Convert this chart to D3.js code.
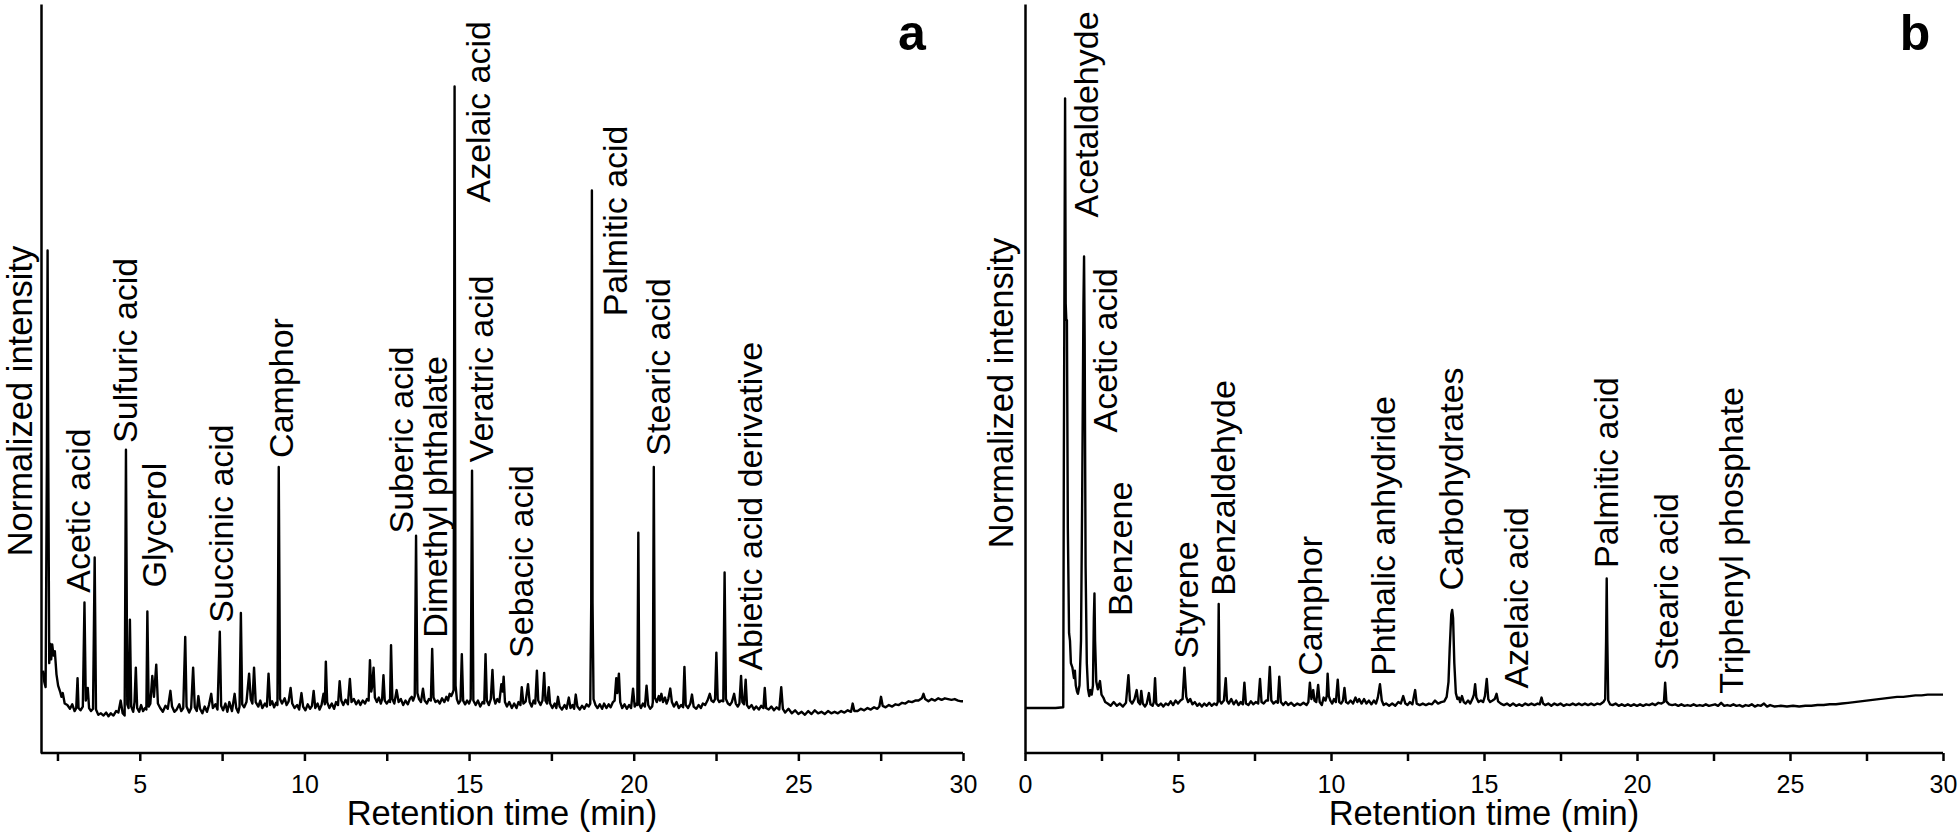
<!DOCTYPE html>
<html><head><meta charset="utf-8">
<script src="https://cdn.jsdelivr.net/npm/d3@7"></script>
<style>
html,body{margin:0;padding:0;background:#fff;}
svg{display:block;font-family:"Liberation Sans",Arial,Helvetica,sans-serif;}
</style></head>
<body>
<svg id="chart" width="1960" height="839"></svg>
<script>
// ---------- DATA ----------
const xTicks = [2.5,5,7.5,10,12.5,15,17.5,20,22.5,25,27.5,30];
const xTicksB = [0,2.5,5,7.5,10,12.5,15,17.5,20,22.5,25,27.5,30];
const xLabelTicks = [0,5,10,15,20,25,30];

// panel a chromatogram: [retention time (min), normalized intensity]
const aTrace = [[2.06,11.0],[2.10,9.5],[2.14,8.8],[2.18,40],[2.20,67.1],[2.22,40],[2.25,12],[2.28,14.6],[2.31,12.5],[2.34,14.5],[2.38,13.0],[2.42,13.6],[2.47,10.5],[2.52,9.0],[2.58,8.2],[2.62,7.5],[2.66,8.0],[2.72,6.6],[2.80,6.4],[2.88,5.9],[2.95,6.5],[3.02,5.6],[3.07,6.0],[3.11,10.0],[3.14,6.0],[3.2,5.7],[3.27,6.2],[3.32,20.1],[3.36,7.0],[3.42,8.7],[3.46,6.0],[3.52,5.6],[3.58,5.9],[3.63,26.1],[3.67,5.8],[3.74,5.1],[3.82,5.3],[3.9,5.0],[3.98,5.4],[4.05,4.9],[4.12,5.3],[4.2,5.0],[4.28,5.6],[4.35,5.4],[4.42,7.0],[4.48,5.3],[4.54,5.0],[4.58,40.5],[4.62,6.5],[4.66,6.0],[4.70,17.8],[4.74,6.2],[4.8,5.5],[4.84,6.8],[4.88,11.4],[4.92,6.0],[4.98,5.5],[5.04,6.4],[5.1,5.6],[5.16,6.0],[5.2,5.8],[5.23,18.9],[5.27,6.2],[5.32,6.6],[5.38,10.3],[5.43,7.5],[5.50,11.8],[5.55,6.6],[5.62,6.0],[5.7,5.5],[5.78,6.3],[5.85,5.9],[5.93,8.3],[5.98,6.2],[6.05,5.5],[6.12,5.8],[6.2,6.5],[6.26,5.6],[6.32,6.0],[6.38,15.5],[6.42,6.2],[6.5,5.4],[6.56,6.0],[6.62,11.4],[6.67,6.1],[6.73,5.6],[6.78,7.6],[6.83,5.9],[6.9,5.3],[6.97,6.2],[7.04,5.5],[7.1,6.4],[7.17,7.9],[7.22,6.0],[7.3,6.5],[7.36,5.8],[7.43,16.2],[7.47,6.3],[7.53,5.7],[7.6,6.6],[7.66,5.5],[7.72,6.8],[7.8,5.6],[7.88,7.9],[7.93,6.0],[7.99,5.4],[8.03,6.2],[8.07,18.7],[8.11,6.5],[8.17,6.1],[8.24,6.8],[8.32,10.6],[8.37,7.2],[8.42,6.6],[8.47,11.4],[8.52,6.8],[8.6,6.2],[8.66,7.0],[8.72,6.0],[8.8,6.6],[8.86,6.2],[8.91,10.6],[8.96,6.4],[9.02,6.9],[9.08,6.1],[9.14,6.7],[9.18,6.4],[9.22,38.2],[9.26,7.2],[9.32,6.6],[9.4,7.3],[9.46,6.4],[9.52,6.9],[9.58,8.7],[9.63,6.6],[9.7,6.0],[9.78,6.4],[9.84,5.8],[9.91,8.0],[9.96,6.2],[10.03,5.7],[10.1,6.5],[10.17,5.9],[10.23,6.3],[10.28,8.3],[10.33,6.0],[10.4,6.6],[10.46,5.8],[10.52,6.4],[10.58,7.9],[10.62,6.5],[10.65,12.2],[10.69,6.8],[10.76,6.0],[10.83,6.6],[10.9,5.9],[10.96,6.8],[11.02,6.4],[11.07,9.6],[11.12,7.0],[11.18,6.4],[11.25,7.1],[11.32,6.5],[11.38,9.9],[11.43,6.8],[11.5,7.2],[11.57,6.5],[11.64,7.0],[11.7,6.4],[11.77,7.0],[11.84,6.6],[11.9,7.2],[11.95,7.0],[11.99,12.4],[12.03,8.2],[12.06,9.0],[12.10,11.4],[12.14,7.4],[12.2,6.8],[12.26,7.4],[12.32,6.6],[12.36,7.2],[12.40,10.4],[12.44,7.0],[12.5,6.6],[12.56,7.0],[12.6,6.8],[12.63,14.4],[12.67,7.2],[12.73,6.6],[12.8,8.4],[12.86,6.8],[12.93,7.2],[13.0,6.4],[13.07,7.0],[13.14,6.5],[13.2,7.2],[13.26,7.5],[13.3,7.0],[13.35,7.6],[13.39,29.0],[13.43,8.0],[13.48,7.2],[13.54,6.8],[13.6,8.6],[13.65,7.0],[13.72,6.6],[13.78,7.2],[13.84,7.0],[13.88,13.9],[13.92,7.4],[13.98,6.8],[14.05,7.0],[14.11,6.6],[14.18,7.3],[14.25,6.8],[14.31,7.5],[14.36,7.0],[14.41,7.9],[14.46,7.6],[14.5,8.0],[14.53,8.4],[14.56,89.0],[14.59,9.0],[14.63,7.2],[14.68,6.6],[14.74,7.0],[14.78,13.2],[14.82,7.0],[14.88,6.5],[14.94,7.0],[15.0,6.6],[15.05,7.2],[15.09,37.7],[15.13,7.0],[15.2,6.4],[15.27,7.0],[15.34,6.2],[15.41,6.8],[15.46,6.6],[15.5,13.2],[15.54,7.0],[15.6,6.4],[15.66,7.2],[15.71,11.1],[15.75,7.4],[15.8,6.6],[15.86,7.2],[15.92,6.8],[15.98,9.2],[16.02,8.2],[16.05,10.2],[16.09,6.8],[16.15,6.2],[16.22,6.8],[16.3,6.0],[16.37,6.6],[16.44,6.0],[16.5,6.8],[16.56,6.4],[16.6,8.8],[16.65,6.6],[16.72,6.9],[16.79,9.2],[16.84,6.8],[16.9,6.2],[16.96,7.0],[17.01,6.6],[17.06,11.0],[17.1,7.0],[17.17,6.4],[17.23,7.0],[17.28,10.7],[17.32,7.0],[17.37,6.6],[17.42,8.8],[17.46,6.6],[17.53,6.0],[17.6,6.6],[17.65,6.0],[17.7,7.5],[17.75,6.2],[17.82,5.8],[17.9,6.4],[17.96,5.9],[18.03,7.4],[18.08,6.0],[18.14,6.4],[18.19,5.9],[18.24,7.8],[18.29,6.2],[18.36,5.8],[18.43,6.3],[18.5,5.9],[18.57,6.5],[18.63,6.2],[18.68,6.6],[18.71,20],[18.73,75.1],[18.75,20],[18.78,7.2],[18.84,6.4],[18.9,6.0],[18.97,6.5],[19.04,5.9],[19.1,6.6],[19.17,6.0],[19.24,6.5],[19.3,6.1],[19.37,6.8],[19.42,7.0],[19.47,10.0],[19.5,8.0],[19.55,10.6],[19.59,6.8],[19.65,6.0],[19.72,6.5],[19.79,5.9],[19.86,6.4],[19.92,6.0],[19.98,8.6],[20.03,6.2],[20.08,6.6],[20.11,6.4],[20.14,29.4],[20.17,6.5],[20.22,6.0],[20.28,6.6],[20.34,6.2],[20.39,9.0],[20.44,6.4],[20.5,5.9],[20.56,6.2],[20.58,6.8],[20.61,38.2],[20.64,7.4],[20.7,6.8],[20.76,7.6],[20.8,7.0],[20.84,7.9],[20.89,6.8],[20.95,7.4],[21.0,6.6],[21.05,7.2],[21.11,8.6],[21.16,6.8],[21.22,6.2],[21.3,6.8],[21.37,6.0],[21.44,6.4],[21.5,6.1],[21.54,11.5],[21.58,6.4],[21.65,6.0],[21.72,6.6],[21.77,7.8],[21.82,6.2],[21.9,5.9],[21.97,6.4],[22.04,6.0],[22.1,6.6],[22.17,6.4],[22.24,7.0],[22.31,7.9],[22.36,7.0],[22.42,6.8],[22.47,7.2],[22.51,13.4],[22.55,7.2],[22.6,6.8],[22.66,7.0],[22.72,6.9],[22.76,24.1],[22.8,7.2],[22.86,6.6],[22.92,6.4],[22.98,6.8],[23.05,7.9],[23.1,6.6],[23.16,6.2],[23.21,6.6],[23.26,10.3],[23.3,6.8],[23.35,6.5],[23.4,9.8],[23.44,6.4],[23.5,6.0],[23.58,6.4],[23.65,5.8],[23.72,6.2],[23.8,5.8],[23.87,6.3],[23.94,6.0],[23.98,8.7],[24.02,6.0],[24.1,5.8],[24.18,6.2],[24.26,5.7],[24.34,6.1],[24.42,5.8],[24.48,8.8],[24.53,5.9],[24.6,5.4],[24.7,5.9],[24.8,5.3],[24.9,5.7],[25.0,5.2],[25.1,5.5],[25.2,5.1],[25.3,5.6],[25.4,5.2],[25.5,5.7],[25.6,5.3],[25.7,5.5],[25.8,5.2],[25.9,5.6],[26.0,5.3],[26.1,5.5],[26.2,5.3],[26.3,5.6],[26.4,5.4],[26.5,5.7],[26.6,5.5],[26.65,6.6],[26.7,5.6],[26.8,5.6],[26.9,5.9],[27.0,5.7],[27.1,6.0],[27.2,5.8],[27.3,6.1],[27.4,5.9],[27.46,6.2],[27.51,7.5],[27.56,6.3],[27.65,6.1],[27.75,6.4],[27.85,6.2],[27.95,6.5],[28.05,6.4],[28.15,6.7],[28.25,6.6],[28.35,6.9],[28.45,6.8],[28.55,7.0],[28.65,7.0],[28.75,7.3],[28.8,7.9],[28.85,7.2],[28.95,6.9],[29.05,7.2],[29.15,7.0],[29.25,7.3],[29.35,7.1],[29.45,7.3],[29.55,7.2],[29.65,7.1],[29.75,7.2],[29.85,7.0],[29.95,6.9],[30.0,6.9]];

// panel b chromatogram
const bTrace = [[0,6.0],[1.0,6.0],[1.25,6.1],[1.27,40],[1.31,87.4],[1.33,60],[1.35,57.8],[1.37,57.8],[1.40,30],[1.44,16.0],[1.47,15.0],[1.50,12.0],[1.55,11.4],[1.6,10.0],[1.63,11.0],[1.66,9.0],[1.70,8.2],[1.73,7.9],[1.78,9.0],[1.83,15],[1.87,35],[1.91,60],[1.93,66.3],[1.95,55],[1.98,25],[2.02,12],[2.06,8.5],[2.10,7.6],[2.14,8.4],[2.18,7.8],[2.22,9],[2.25,18],[2.27,21.3],[2.29,15],[2.33,9.5],[2.38,8.5],[2.45,9.6],[2.5,7.8],[2.56,7.4],[2.62,6.8],[2.7,6.6],[2.8,6.3],[2.9,6.8],[3.0,6.3],[3.1,6.6],[3.2,6.2],[3.3,6.7],[3.38,10.4],[3.43,7.0],[3.5,6.6],[3.58,7.2],[3.65,8.4],[3.7,6.8],[3.76,6.5],[3.8,8.3],[3.85,6.6],[3.92,6.2],[3.98,6.6],[4.05,8.0],[4.1,6.5],[4.17,6.3],[4.21,6.8],[4.25,10.0],[4.29,6.6],[4.36,6.3],[4.44,6.6],[4.52,6.2],[4.6,6.6],[4.68,6.4],[4.76,6.9],[4.84,6.4],[4.92,7.0],[5.0,6.6],[5.08,7.0],[5.15,7.2],[5.21,11.4],[5.27,7.5],[5.33,6.8],[5.4,7.2],[5.47,6.5],[5.55,6.8],[5.63,6.3],[5.7,6.6],[5.78,6.2],[5.86,6.6],[5.94,6.3],[6.02,6.7],[6.1,6.3],[6.18,6.6],[6.26,6.4],[6.3,6.8],[6.33,19.9],[6.36,7.0],[6.42,6.6],[6.5,7.0],[6.56,10.0],[6.6,7.0],[6.66,6.6],[6.74,7.2],[6.82,6.5],[6.9,7.0],[6.98,6.4],[7.05,6.8],[7.12,6.5],[7.17,9.4],[7.22,6.6],[7.3,6.4],[7.38,6.9],[7.46,6.5],[7.54,6.8],[7.62,6.6],[7.68,9.9],[7.73,6.8],[7.8,6.6],[7.88,7.0],[7.94,7.0],[8.0,11.5],[8.05,7.0],[8.12,6.6],[8.2,6.9],[8.26,6.7],[8.31,10.2],[8.36,6.8],[8.44,6.4],[8.52,6.8],[8.6,6.4],[8.7,6.7],[8.8,6.3],[8.9,6.6],[9.0,6.4],[9.1,6.7],[9.2,6.4],[9.26,6.8],[9.31,9.4],[9.36,7.2],[9.42,8.4],[9.46,7.0],[9.52,6.8],[9.58,9.1],[9.63,6.8],[9.7,6.4],[9.76,7.4],[9.82,7.0],[9.86,7.6],[9.89,10.6],[9.93,7.6],[9.98,7.0],[10.04,6.6],[10.1,7.2],[10.16,6.8],[10.22,9.8],[10.27,6.8],[10.33,6.6],[10.39,7.0],[10.44,8.7],[10.49,6.8],[10.56,6.6],[10.64,7.0],[10.72,6.6],[10.8,7.4],[10.86,6.8],[10.92,7.2],[11.0,6.6],[11.08,7.2],[11.16,6.6],[11.24,7.0],[11.32,6.5],[11.4,7.0],[11.47,6.6],[11.53,7.4],[11.6,9.2],[11.66,7.0],[11.72,6.4],[11.8,6.6],[11.9,6.3],[12.0,6.6],[12.1,6.3],[12.2,6.8],[12.28,6.6],[12.36,7.6],[12.43,6.6],[12.5,6.4],[12.58,6.8],[12.66,6.5],[12.75,8.4],[12.8,6.6],[12.9,6.4],[13.0,6.6],[13.1,6.4],[13.2,6.6],[13.3,6.5],[13.4,7.0],[13.5,6.6],[13.6,6.8],[13.7,6.9],[13.78,7.5],[13.84,9.5],[13.88,14.0],[13.93,18.5],[13.96,19.1],[13.99,18.0],[14.03,12.0],[14.08,8.0],[14.13,7.2],[14.18,7.4],[14.22,6.8],[14.28,7.6],[14.34,6.8],[14.4,6.6],[14.48,7.0],[14.55,6.6],[14.62,7.2],[14.67,7.8],[14.71,9.2],[14.75,7.4],[14.82,6.8],[14.9,7.0],[14.97,6.8],[15.03,7.6],[15.09,9.9],[15.14,7.2],[15.2,6.8],[15.28,7.0],[15.35,7.2],[15.41,7.9],[15.46,6.9],[15.55,6.6],[15.65,6.4],[15.75,6.6],[15.85,6.3],[15.95,6.6],[16.05,6.3],[16.15,6.5],[16.25,6.3],[16.35,6.6],[16.45,6.4],[16.55,6.6],[16.65,6.4],[16.75,6.6],[16.82,6.5],[16.88,7.4],[16.93,6.6],[17.0,6.4],[17.1,6.6],[17.2,6.3],[17.3,6.6],[17.4,6.4],[17.5,6.6],[17.6,6.3],[17.7,6.5],[17.8,6.4],[17.9,6.6],[18.0,6.4],[18.1,6.6],[18.2,6.4],[18.3,6.6],[18.4,6.4],[18.5,6.6],[18.6,6.4],[18.7,6.6],[18.8,6.5],[18.9,6.8],[18.96,7.2],[18.99,15],[19.01,23.3],[19.03,15],[19.06,7.0],[19.12,6.5],[19.2,6.4],[19.3,6.6],[19.4,6.3],[19.5,6.5],[19.6,6.3],[19.7,6.5],[19.8,6.3],[19.9,6.5],[20.0,6.3],[20.1,6.5],[20.2,6.3],[20.3,6.5],[20.4,6.4],[20.5,6.6],[20.6,6.4],[20.7,6.7],[20.8,6.6],[20.88,6.8],[20.92,9.4],[20.96,6.9],[21.05,6.5],[21.15,6.4],[21.25,6.5],[21.35,6.3],[21.45,6.5],[21.55,6.3],[21.65,6.4],[21.75,6.3],[21.85,6.5],[21.95,6.3],[22.05,6.4],[22.15,6.3],[22.25,6.5],[22.35,6.3],[22.45,6.4],[22.55,6.5],[22.65,6.3],[22.75,6.7],[22.85,6.3],[22.95,6.4],[23.05,6.3],[23.15,6.5],[23.25,6.3],[23.35,6.4],[23.45,6.2],[23.55,6.4],[23.65,6.3],[23.75,6.5],[23.85,6.2],[23.95,6.4],[24.05,6.3],[24.15,6.6],[24.25,6.2],[24.35,6.4],[24.5,6.2],[24.7,6.3],[24.9,6.2],[25.1,6.3],[25.3,6.2],[25.5,6.3],[25.7,6.3],[25.9,6.4],[26.1,6.4],[26.3,6.5],[26.5,6.5],[26.7,6.6],[26.9,6.7],[27.1,6.8],[27.3,6.9],[27.5,7.0],[27.7,7.1],[27.9,7.2],[28.1,7.3],[28.3,7.4],[28.5,7.5],[28.7,7.5],[28.9,7.6],[29.1,7.7],[29.3,7.7],[29.5,7.8],[29.7,7.8],[29.9,7.8],[30.0,7.8]];

// peak labels: name, retention time at label, intensity at label start
const aLabelNames = ["Acetic acid","Sulfuric acid","Glycerol","Succinic acid","Camphor","Suberic acid","Dimethyl phthalate","Azelaic acid","Veratric acid","Sebacic acid","Palmitic acid","Stearic acid","Abietic acid derivative"];
const aLabelTimes = [3.48,4.91,5.79,7.82,9.65,13.29,14.32,15.63,15.72,16.93,19.79,21.09,23.89];
const aLabelHeights = [21.4,41.4,22.1,17.4,39.4,29.3,15.4,73.5,38.8,12.7,58.3,39.7,11.0];

const bLabelNames = ["Acetaldehyde","Acetic acid","Benzene","Styrene","Benzaldehyde","Camphor","Phthalic anhydride","Carbohydrates","Azelaic acid","Palmitic acid","Stearic acid","Triphenyl phosphate"];
const bLabelTimes = [2.39,3.01,3.50,5.65,6.86,9.71,12.09,14.31,16.44,19.38,21.34,23.46];
const bLabelHeights = [71.5,42.8,18.3,12.6,21.0,10.3,10.3,21.7,8.6,24.7,11.0,7.9];

const xTitle = "Retention time (min)";
const yTitle = "Normalized intensity";

// ---------- DRAW ----------
const svg = d3.select("#chart");
const FONT = '"Liberation Sans",Arial,Helvetica,sans-serif';
const plotTop = 4, plotBottom = 753;

function panel(cfg){
  const g = svg.append("g");
  const x = d3.scaleLinear().domain(cfg.xDomain).range(cfg.xRange);
  const y = d3.scaleLinear().domain([0,100]).range([plotBottom, plotTop]);

  // trace
  const line = d3.line().x(d=>x(d[0])).y(d=>y(d[1]));
  g.append("path").datum(cfg.trace)
    .attr("d", line).attr("fill","none").attr("stroke","#000")
    .attr("stroke-width",2.4).attr("stroke-linejoin","round");

  // x axis
  const ax = d3.axisBottom(x).tickValues(cfg.ticks).tickSize(8).tickPadding(14)
    .tickFormat(d => xLabelTicks.includes(d) ? d3.format("d")(d) : "");
  const axg = g.append("g").attr("transform",`translate(0,${plotBottom})`).call(ax);
  axg.select(".domain").attr("stroke","#000").attr("stroke-width",2.5)
    .attr("d", `M${cfg.xRange[0]},0H${cfg.xRange[1]}`);
  axg.selectAll(".tick line").attr("stroke","#000").attr("stroke-width",2.5);
  axg.selectAll(".tick text").attr("fill","#000").style("font-size","25px").style("font-family",FONT);

  // y axis (no ticks)
  const ay = d3.axisLeft(y).tickValues([]).tickSizeOuter(0);
  const ayg = g.append("g").attr("transform",`translate(${cfg.xRange[0]},0)`).call(ay);
  ayg.select(".domain").attr("stroke","#000").attr("stroke-width",2.5);

  // titles
  g.append("text").attr("x",(cfg.xRange[0]+cfg.xRange[1])/2).attr("y",825)
    .attr("text-anchor","middle").style("font-size","34.5px").style("font-family",FONT)
    .text(xTitle);
  g.append("text").attr("transform",`translate(${cfg.yTitleX},${cfg.yTitleY}) rotate(-90)`)
    .attr("text-anchor","middle").style("font-size","34.5px").style("font-family",FONT)
    .text(yTitle);

  // peak labels
  g.selectAll("text.peak").data(cfg.names).enter().append("text")
    .attr("class","peak")
    .attr("transform",(d,i)=>`translate(${x(cfg.times[i])},${y(cfg.heights[i])}) rotate(-90)`)
    .style("font-size","34px").style("font-family",FONT)
    .text(d=>d);

  // panel letter
  g.append("text").attr("x",cfg.letterX).attr("y",50).attr("text-anchor","middle")
    .style("font-size","50px").style("font-weight","bold").style("font-family",FONT)
    .text(cfg.letter);
}

panel({xDomain:[2,30], xRange:[41,963], ticks:xTicks, trace:aTrace,
  names:aLabelNames, times:aLabelTimes, heights:aLabelHeights,
  yTitleX:32, yTitleY:401, letter:"a", letterX:912});
panel({xDomain:[0,30], xRange:[1025,1943], ticks:xTicksB, trace:bTrace,
  names:bLabelNames, times:bLabelTimes, heights:bLabelHeights,
  yTitleX:1013, yTitleY:393, letter:"b", letterX:1915});
</script>
</body></html>
